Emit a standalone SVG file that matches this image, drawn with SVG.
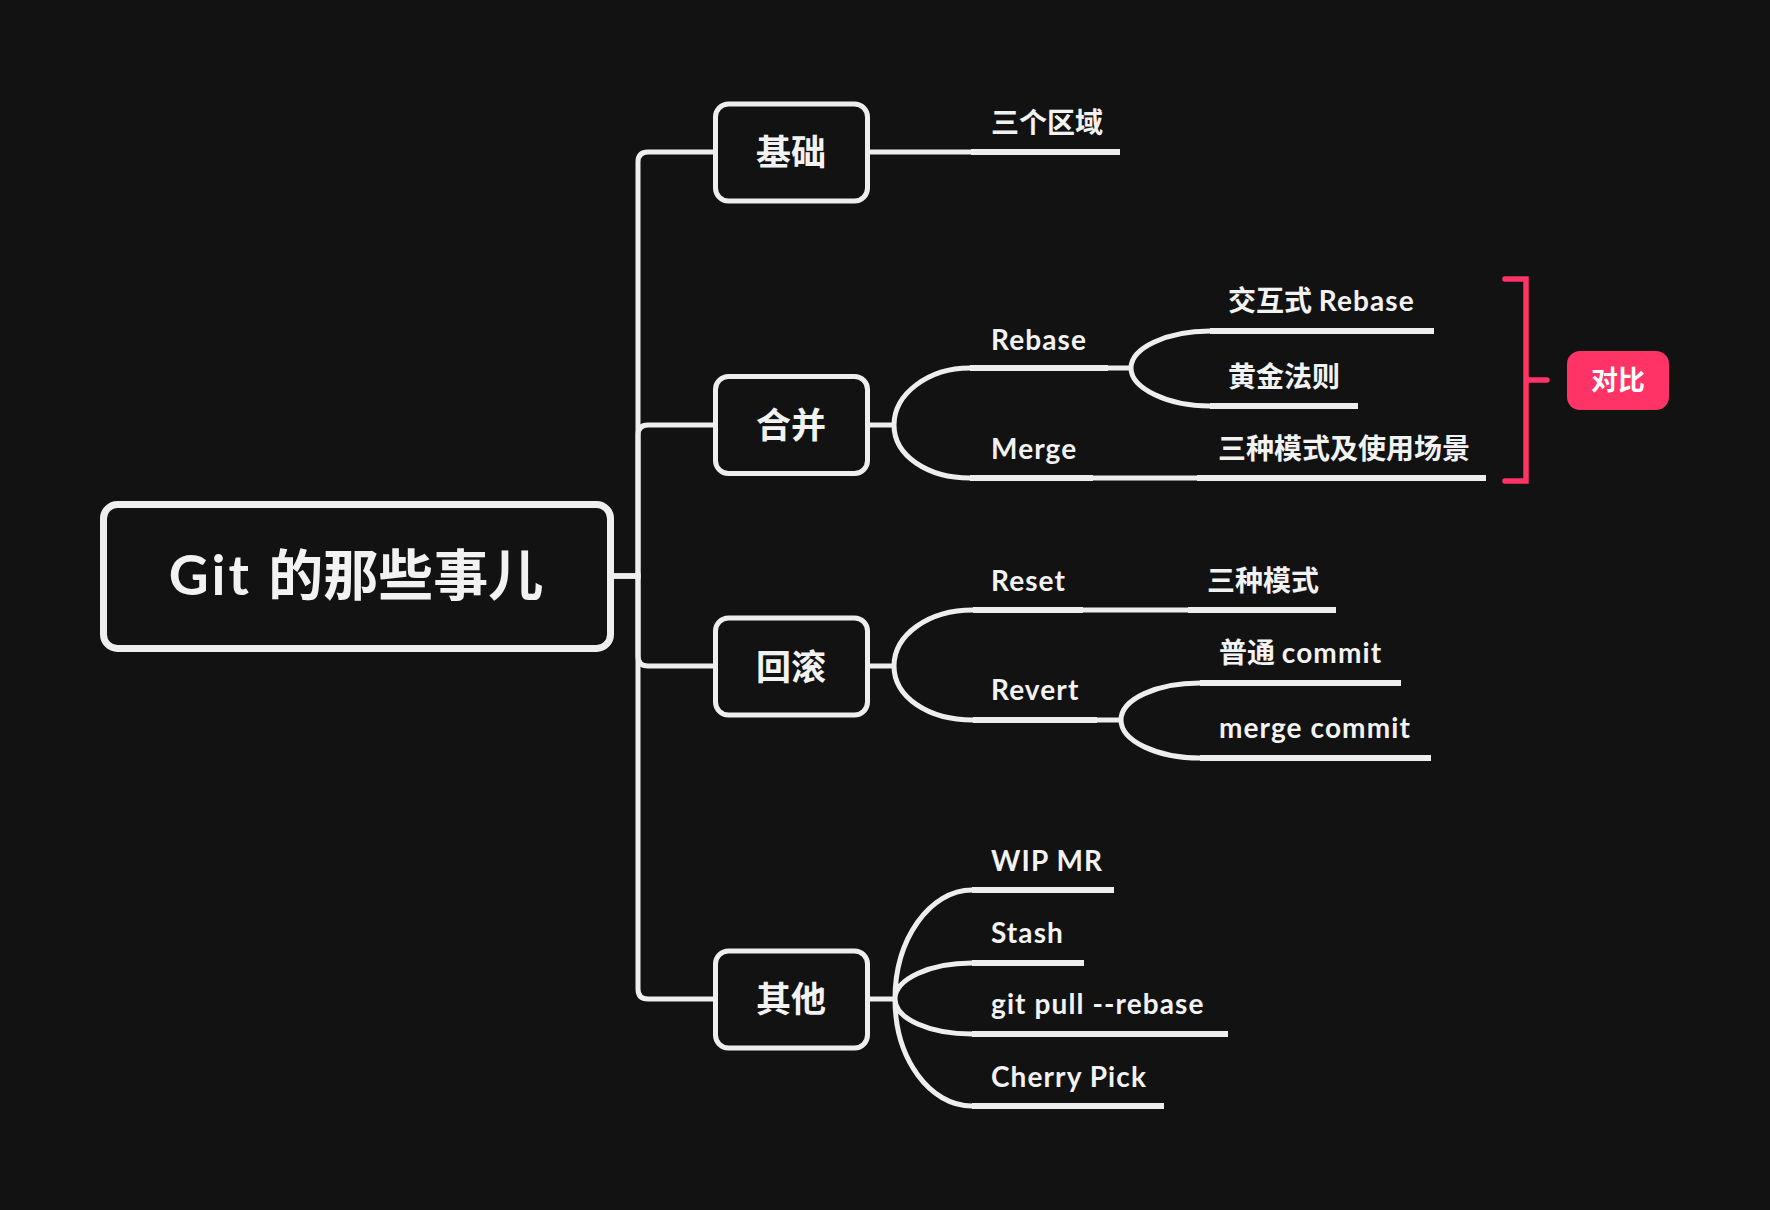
<svg xmlns="http://www.w3.org/2000/svg" width="1770" height="1210" viewBox="0 0 1770 1210">
<style>
.bg{fill:#121212}
.box{fill:#121212;stroke:#EEEEEE;stroke-width:5}
.root{fill:#121212;stroke:#EEEEEE;stroke-width:7}
.con{fill:none;stroke:#EEEEEE;stroke-width:5}
.ul{stroke:#EEEEEE;stroke-width:6}
text{font-family:Lato,"Noto Sans CJK SC",sans-serif;font-weight:700;fill:#F2F2F2}
.t1{font-size:35px;text-anchor:middle}
.t2{font-size:28px}
.la{letter-spacing:1.1px}
.tr{font-size:55px;text-anchor:middle}
.br{fill:none;stroke:#FF3366;stroke-width:5.5;stroke-linecap:round}
</style>
<rect class="bg" x="0" y="0" width="1770" height="1210"/>
<g id="connectors">
<path class="con" d="M614,576 H638 V162 Q638,152 648,152 H715"/>
<path class="con" d="M614,576 H638 V435 Q638,425 648,425 H715"/>
<path class="con" d="M614,576 H638 V656 Q638,666 648,666 H715"/>
<path class="con" d="M614,576 H638 V989 Q638,999 648,999 H715"/>
<path class="con" d="M867,152 H971"/>
<path class="con" d="M867,425 H894 M894,425 C894,394 928,368 970,368 M894,425 C894,456 928,478 970,478"/>
<path class="con" d="M1108,368 H1131 C1131,348 1167,331 1210,331 M1131,368 C1131,388 1167,406 1210,406"/>
<path class="con" d="M1093,478 H1197"/>
<path class="con" d="M867,666 H894 M894,666 C894,635 928,610 973,610 M894,666 C894,697 928,720 973,720"/>
<path class="con" d="M1083,610 H1188"/>
<path class="con" d="M1097,720 H1121 C1121,699 1157,683 1200,683 M1121,720 C1121,741 1157,758 1200,758"/>
<path class="con" d="M867,999 H895 M895,999 C895,939 930,890 972,890 M895,999 C895,979 930,963 972,963 M895,999 C895,1019 930,1034 972,1034 M895,999 C895,1059 930,1106 972,1106"/>
</g>
<g id="root">
<rect class="root" x="103.5" y="504.5" width="507" height="144" rx="14"/>
<text class="tr" x="356" y="595"><tspan style="letter-spacing:3px">Git </tspan>的那些事儿</text>
</g>
<g id="n-jichu">
<rect class="box" x="715.5" y="104" width="152" height="97" rx="13"/>
<text class="t1" x="791" y="165">基础</text>
</g>
<g id="n-hebing">
<rect class="box" x="715.5" y="376.5" width="152" height="97" rx="13"/>
<text class="t1" x="791" y="438">合并</text>
</g>
<g id="n-huigun">
<rect class="box" x="715.5" y="618" width="152" height="97" rx="13"/>
<text class="t1" x="791" y="680">回滚</text>
</g>
<g id="n-qita">
<rect class="box" x="715.5" y="951" width="152" height="97" rx="13"/>
<text class="t1" x="791" y="1012">其他</text>
</g>
<g id="n-sangequyu"><text class="t2" x="991" y="133">三个区域</text><line class="ul" x1="971" y1="152" x2="1120" y2="152"/></g>
<g id="n-rebase"><text class="t2 la" x="991" y="350">Rebase</text><line class="ul" x1="970" y1="368" x2="1108" y2="368"/></g>
<g id="n-merge"><text class="t2 la" x="991" y="459">Merge</text><line class="ul" x1="970" y1="478" x2="1093" y2="478"/></g>
<g id="n-jiaohu"><text class="t2" x="1228" y="311">交互式 <tspan class="la">Rebase</tspan></text><line class="ul" x1="1210" y1="331" x2="1434" y2="331"/></g>
<g id="n-huangjin"><text class="t2" x="1228" y="387">黄金法则</text><line class="ul" x1="1210" y1="406" x2="1358" y2="406"/></g>
<g id="n-mergemodes"><text class="t2" x="1218" y="459">三种模式及使用场景</text><line class="ul" x1="1197" y1="478" x2="1486" y2="478"/></g>
<g id="n-reset"><text class="t2 la" x="991" y="591">Reset</text><line class="ul" x1="973" y1="610" x2="1083" y2="610"/></g>
<g id="n-resetmodes"><text class="t2" x="1207" y="591">三种模式</text><line class="ul" x1="1188" y1="610" x2="1336" y2="610"/></g>
<g id="n-revert"><text class="t2 la" x="991" y="700">Revert</text><line class="ul" x1="973" y1="720" x2="1097" y2="720"/></g>
<g id="n-putong"><text class="t2" x="1219" y="663">普通 <tspan class="la">commit</tspan></text><line class="ul" x1="1200" y1="683" x2="1401" y2="683"/></g>
<g id="n-mergecommit"><text class="t2 la" x="1219" y="738">merge commit</text><line class="ul" x1="1200" y1="758" x2="1431" y2="758"/></g>
<g id="n-wip"><text class="t2 la" x="991" y="871">WIP MR</text><line class="ul" x1="972" y1="890" x2="1114" y2="890"/></g>
<g id="n-stash"><text class="t2 la" x="991" y="943">Stash</text><line class="ul" x1="972" y1="963" x2="1084" y2="963"/></g>
<g id="n-gitpull"><text class="t2 la" x="991" y="1014">git pull --rebase</text><line class="ul" x1="972" y1="1034" x2="1228" y2="1034"/></g>
<g id="n-cherry"><text class="t2 la" x="991" y="1087">Cherry Pick</text><line class="ul" x1="972" y1="1106" x2="1164" y2="1106"/></g>
<g id="bracket">
<path class="br" d="M1505,279 H1526 V481 H1505 M1526,380 H1547"/>
</g>
<g id="n-duibi">
<rect x="1567" y="351" width="102" height="59" rx="13" fill="#FF3366"/>
<text x="1618" y="390" style="font-size:27px;text-anchor:middle;fill:#FFFFFF">对比</text>
</g>
</svg>
